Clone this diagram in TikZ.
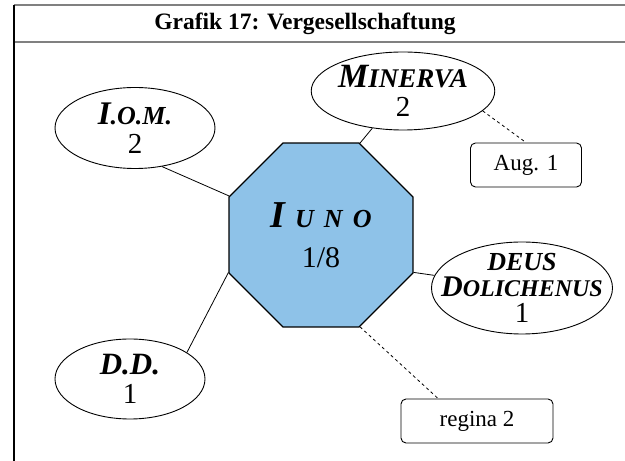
\documentclass[tikz,border=0pt]{standalone}
\usepackage{fontspec}
\setmainfont{Liberation Serif}
\usetikzlibrary{shapes,positioning}
\newcommand{\fs}[1]{\fontsize{#1}{#1}\selectfont}
\definecolor{iunoblue}{RGB}{142,194,232}

\begin{document}
\begin{tikzpicture}[x=1pt,y=1pt,node distance=100pt,
      god/.style={ellipse,draw,line width=0.9pt,inner sep=0pt,align=center,font=\fs{29}\bfseries\itshape},
      note/.style={rectangle,draw,rounded corners=5pt,line width=0.9pt,minimum height=44pt,inner sep=0pt,font=\fs{23}}]
      \useasboundingbox (0,0) rectangle (625,461);
      \draw[gray,line width=1.5pt] (14,456) -- (625,456);
      \draw[gray,line width=1.5pt] (14,419) -- (625,419);
      \draw[line width=1.5pt] (14,456) -- (14,0);
      \node (title) at (305,437) {\fs{23.5}\bfseries Grafik 17: Vergesellschaftung};
      \node (iuno) at (321,226) [regular polygon,regular polygon sides=8,minimum size=199pt,inner sep=0pt,
        draw,line width=1.2pt,fill=iunoblue,align=center,font=\fs{30}]
        {\bfseries\itshape{\fs{38}I}\hspace{10pt}{\fs{26}U}\hspace{10pt}{\fs{26}N}\hspace{10pt}{\fs{26}O}\\[10pt]1/8};
      \node (iom) [god,above of=iuno,node distance=107pt,xshift=-186pt,minimum width=160pt,minimum height=81pt]
        {{\fs{33}I}{\fs{26}.O.M.}\\\mdseries\upshape 2};
      \node (minerva) [god,above of=iuno,node distance=144pt,xshift=82pt,minimum width=178pt,minimum height=78pt]
        {{\fs{34}M}{\fs{27}INERVA}\\\mdseries\upshape 2};
      \node (deus) [god,right of=iuno,node distance=201pt,yshift=-53pt,minimum width=181pt,minimum height=92pt,
        inner xsep=-24pt,inner ysep=-8pt]
        {{\fs{26}DEUS}\\[-3pt]{\fs{30}D}{\fs{24}OLICHENUS}\\[-3pt]\mdseries\upshape 1};
      \node (dd) [god,below of=iuno,node distance=144pt,xshift=-191pt,minimum width=150pt,minimum height=80pt]
        {{\fs{31}D.D.}\\\mdseries\upshape 1};
      \node (aug) [note,below of=minerva,node distance=74pt,xshift=123pt,minimum width=111pt] {Aug. 1};
      \node (regina) [note,below of=iuno,node distance=186pt,xshift=156pt,minimum width=152pt] {regina 2};
      \draw[line width=0.8pt] (iom.-55) -- (iuno.157.5);
      \draw[line width=0.8pt] (minerva) -- (iuno.67.5);
      \draw[line width=0.8pt] (iuno.-22.5) -- (deus);
      \draw[line width=0.8pt] (iuno.202.5) -- (dd.25);
      \draw[dashed,line width=0.8pt] (minerva.-14) -- (aug.north);
      \draw[dashed,line width=0.8pt] (iuno.-67.5) -- (regina.150);
    \end{tikzpicture}
\end{document}
